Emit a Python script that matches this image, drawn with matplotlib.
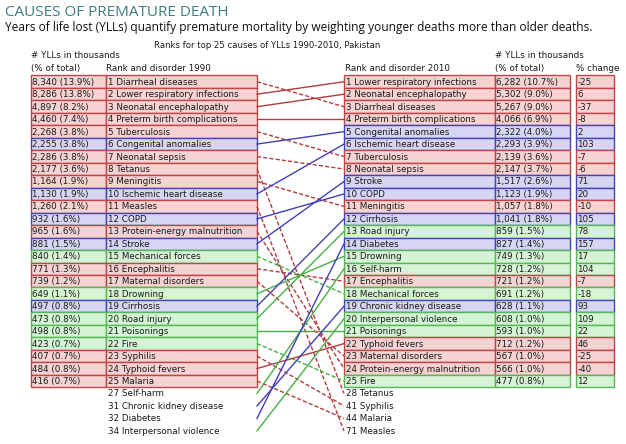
import matplotlib.pyplot as plt
from matplotlib.patches import Rectangle

# 1990 ranking (rank = position + 1)
causes_1990 = ["Diarrheal diseases", "Lower respiratory infections", "Neonatal encephalopathy",
               "Preterm birth complications", "Tuberculosis", "Congenital anomalies",
               "Neonatal sepsis", "Tetanus", "Meningitis", "Ischemic heart disease", "Measles",
               "COPD", "Protein-energy malnutrition", "Stroke", "Mechanical forces",
               "Encephalitis", "Maternal disorders", "Drowning", "Cirrhosis", "Road injury",
               "Poisonings", "Fire", "Syphilis", "Typhoid fevers", "Malaria"]
yll_1990 = [8340, 8286, 4897, 4460, 2268, 2255, 2286, 2177, 1164, 1130, 1260, 932, 965, 881,
            840, 771, 739, 649, 497, 473, 498, 423, 407, 484, 416]
pct_1990 = [13.9, 13.8, 8.2, 7.4, 3.8, 3.8, 3.8, 3.6, 1.9, 1.9, 2.1, 1.6, 1.6, 1.5, 1.4, 1.3,
            1.2, 1.1, 0.8, 0.8, 0.8, 0.7, 0.7, 0.8, 0.7]
extra_rank_1990 = [27, 31, 32, 34]
extra_causes_1990 = ["Self-harm", "Chronic kidney disease", "Diabetes", "Interpersonal violence"]

# 2010 ranking
causes_2010 = ["Lower respiratory infections", "Neonatal encephalopathy", "Diarrheal diseases",
               "Preterm birth complications", "Congenital anomalies", "Ischemic heart disease",
               "Tuberculosis", "Neonatal sepsis", "Stroke", "COPD", "Meningitis", "Cirrhosis",
               "Road injury", "Diabetes", "Drowning", "Self-harm", "Encephalitis",
               "Mechanical forces", "Chronic kidney disease", "Interpersonal violence",
               "Poisonings", "Typhoid fevers", "Maternal disorders",
               "Protein-energy malnutrition", "Fire"]
yll_2010 = [6282, 5302, 5267, 4066, 2322, 2293, 2139, 2147, 1517, 1123, 1057, 1041, 859, 827,
            749, 728, 721, 691, 628, 608, 593, 712, 567, 566, 477]
pct_2010 = [10.7, 9.0, 9.0, 6.9, 4.0, 3.9, 3.6, 3.7, 2.6, 1.9, 1.8, 1.8, 1.5, 1.4, 1.3, 1.2,
            1.2, 1.2, 1.1, 1.0, 1.0, 1.2, 1.0, 1.0, 0.8]
pct_change = [-25, 6, -37, -8, 2, 103, -7, -6, 71, 20, -10, 105, 78, 157, 17, 104, -7, -18,
              93, 109, 22, 46, -25, -40, 12]
extra_rank_2010 = [28, 41, 44, 71]
extra_causes_2010 = ["Tetanus", "Syphilis", "Malaria", "Measles"]

# C = communicable/maternal/neonatal/nutritional, N = non-communicable, I = injuries
groups = {"C": ["Diarrheal diseases", "Lower respiratory infections", "Neonatal encephalopathy",
                "Preterm birth complications", "Tuberculosis", "Neonatal sepsis", "Tetanus",
                "Meningitis", "Measles", "Protein-energy malnutrition", "Encephalitis",
                "Maternal disorders", "Syphilis", "Typhoid fevers", "Malaria"],
          "N": ["Congenital anomalies", "Ischemic heart disease", "COPD", "Stroke", "Cirrhosis",
                "Diabetes", "Chronic kidney disease"],
          "I": ["Mechanical forces", "Drowning", "Road injury", "Poisonings", "Fire",
                "Self-harm", "Interpersonal violence"]}
fills = {"C": "#f5d3d3", "N": "#d6d6f3", "I": "#d5f3d5"}
edges = {"C": "#c24545", "N": "#4545b8", "I": "#55b855"}
lines = {"C": "#b53c3c", "N": "#4040b8", "I": "#45b045"}


def group_of(name):
    for g, names in groups.items():
        if name in names:
            return g


fig = plt.figure(figsize=(6.26, 4.44), dpi=100)
ax = fig.add_axes([0, 0, 1, 1])
ax.set_xlim(0, 626)
ax.set_ylim(444, 0)
ax.axis("off")

top = 75.5
pitch = 12.47
fs = 6.3
font = "DejaVu Sans"


def row_y(slot):
    return top + slot * pitch


def cell(x0, x1, slot, text, g):
    y = row_y(slot)
    ax.add_patch(Rectangle((x0, y), x1 - x0, pitch, facecolor=fills[g], edgecolor=edges[g],
                           lw=1.0))
    ax.text(x0 + 1.5, y + pitch / 2 + 0.5, text, fontsize=fs, family=font, va="center",
            ha="left", color="#1a1a1a")


# left table
for i, name in enumerate(causes_1990):
    g = group_of(name)
    cell(31, 106, i, f"{yll_1990[i]:,} ({pct_1990[i]:.1f}%)", g)
    cell(106, 257, i, f"{i + 1} {name}", g)
for k, name in enumerate(extra_causes_1990):
    ax.text(107.5, row_y(25 + k) + pitch / 2 + 0.5, f"{extra_rank_1990[k]} {name}",
            fontsize=fs, family=font, va="center", color="#1a1a1a")

# right table
for i, name in enumerate(causes_2010):
    g = group_of(name)
    cell(344, 495, i, f"{i + 1} {name}", g)
    cell(495, 570, i, f"{yll_2010[i]:,} ({pct_2010[i]:.1f}%)", g)
    cell(576, 614, i, f"{pct_change[i]}", g)
for k, name in enumerate(extra_causes_2010):
    ax.text(345.5, row_y(25 + k) + pitch / 2 + 0.5, f"{extra_rank_2010[k]} {name}",
            fontsize=fs, family=font, va="center", color="#1a1a1a")

# connecting lines
left_slot = {n: i for i, n in enumerate(causes_1990)}
left_slot.update({n: 25 + k for k, n in enumerate(extra_causes_1990)})
left_rank = {n: i + 1 for i, n in enumerate(causes_1990)}
left_rank.update(dict(zip(extra_causes_1990, extra_rank_1990)))
right_slot = {n: i for i, n in enumerate(causes_2010)}
right_slot.update({n: 25 + k for k, n in enumerate(extra_causes_2010)})
right_rank = {n: i + 1 for i, n in enumerate(causes_2010)}
right_rank.update(dict(zip(extra_causes_2010, extra_rank_2010)))

for name in left_slot:
    g = group_of(name)
    y0 = row_y(left_slot[name]) + pitch / 2
    y1 = row_y(right_slot[name]) + pitch / 2
    ls = (0, (3, 1.5)) if right_rank[name] > left_rank[name] else "-"
    ax.plot([257, 344], [y0, y1], color=lines[g], lw=1.0, ls=ls, zorder=1)

# titles and headers
ax.text(5, 13, "CAUSES OF PREMATURE DEATH", fontsize=11, family="Open Sans",
        color="#3e7b7d", va="center")
ax.text(5, 27.5, "Years of life lost (YLLs) quantify premature mortality by weighting younger "
        "deaths more than older deaths.", fontsize=8.6, family="Open Sans", color="#111111",
        va="center")
ax.text(267, 45, "Ranks for top 25 causes of YLLs 1990-2010, Pakistan", fontsize=6.1,
        family=font, ha="center", va="center", color="#1a1a1a")
hdr = dict(fontsize=fs, family=font, va="center", color="#1a1a1a")
ax.text(31, 56, "# YLLs in thousands", **hdr)
ax.text(31, 68.5, "(% of total)", **hdr)
ax.text(106.5, 68.5, "Rank and disorder 1990", **hdr)
ax.text(345, 68.5, "Rank and disorder 2010", **hdr)
ax.text(495, 56, "# YLLs in thousands", **hdr)
ax.text(495, 68.5, "(% of total)", **hdr)
ax.text(576.5, 68.5, "% change", **hdr)

fig.savefig("out.png", dpi=100, facecolor="white")
